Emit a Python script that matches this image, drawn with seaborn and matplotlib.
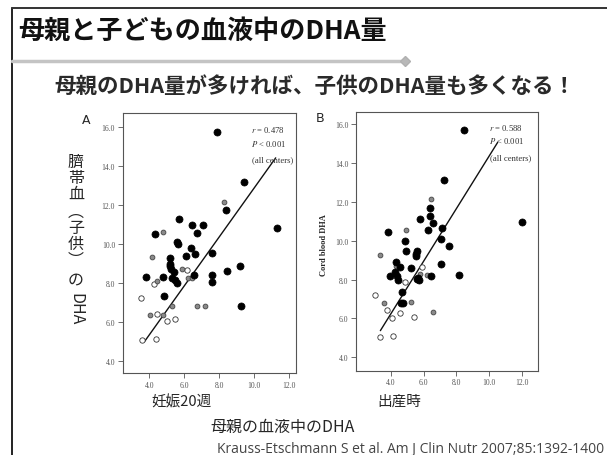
import matplotlib
matplotlib.use("Agg")
import matplotlib.pyplot as plt
from matplotlib.lines import Line2D
import seaborn as sns
import pandas as pd

# ---------------- data ----------------
a_black_x = [7.85, 9.39, 8.40, 11.31, 5.71, 4.34, 6.46, 7.07, 6.73, 5.58, 5.62, 6.38, 6.08, 6.63,
             7.60, 5.17, 5.17, 5.20, 5.24, 5.40, 3.83, 4.77, 5.28, 5.45, 5.60, 6.55, 7.60, 7.60,
             8.44, 9.20, 9.24, 4.86]
a_black_y = [15.74, 13.21, 11.74, 10.82, 11.30, 10.53, 11.01, 10.99, 10.60, 10.10, 10.00, 9.81, 9.42, 9.50,
             9.54, 9.28, 9.00, 8.87, 8.73, 8.59, 8.32, 8.31, 8.26, 8.18, 8.02, 8.43, 8.41, 8.08,
             8.63, 8.87, 6.82, 7.36]
a_gray_x = [8.29, 4.77, 4.14, 4.46, 5.85, 6.23, 6.44, 6.74, 7.18, 5.31, 4.02, 4.80]
a_gray_y = [12.18, 10.62, 9.35, 8.12, 8.75, 8.26, 8.26, 6.85, 6.84, 6.85, 6.37, 6.37]
a_open_x = [4.25, 6.15, 3.53, 4.42, 4.99, 5.49, 3.60, 4.40]
a_open_y = [7.96, 8.67, 7.26, 6.41, 6.07, 6.15, 5.11, 5.13]
a_line_x = [3.74, 11.22]
a_line_y = [5.03, 14.43]

b_black_x = [8.47, 7.22, 6.41, 6.39, 5.80, 6.59, 6.28, 7.10, 12.00, 3.82, 4.86, 7.04, 7.55, 4.90,
             5.60, 5.55, 5.50, 4.31, 4.55, 5.22, 4.24, 3.94, 4.35, 4.41, 5.60, 5.70, 5.65, 6.45,
             7.06, 8.14, 4.65, 4.63, 4.73]
b_black_y = [15.68, 13.14, 11.68, 11.25, 11.13, 10.91, 10.55, 10.67, 10.98, 10.46, 9.97, 10.07, 9.74, 9.45,
             9.45, 9.32, 9.22, 8.89, 8.66, 8.58, 8.40, 8.17, 8.20, 7.98, 8.05, 8.00, 8.10, 8.17,
             8.80, 8.25, 7.34, 6.77, 6.77]
b_gray_x = [6.45, 4.92, 3.33, 4.31, 5.80, 6.22, 3.57, 5.22, 6.55]
b_gray_y = [12.14, 10.57, 9.26, 8.71, 8.27, 8.22, 6.79, 6.83, 6.31]
b_open_x = [5.88, 4.84, 3.04, 3.74, 4.53, 4.04, 5.43, 3.33, 4.12]
b_open_y = [8.63, 7.89, 7.20, 6.42, 6.28, 6.00, 6.09, 5.06, 5.08]
b_line_x = [3.35, 10.53]
b_line_y = [5.37, 15.06]

x_ticks = [4, 6, 8, 10, 12]
x_tick_labels = ["4.0", "6.0", "8.0", "10.0", "12.0"]
y_ticks = [4, 6, 8, 10, 12, 14, 16]
y_tick_labels = ["4.0", "6.0", "8.0", "10.0", "12.0", "14.0", "16.0"]

stats_a = ["$r$ = 0.478", "$P$ < 0.001", "(all centers)"]
stats_b = ["$r$ = 0.588", "$P$ < 0.001", "(all centers)"]

title = "母親と子どもの血液中のDHA量"
subtitle = "母親のDHA量が多ければ、子供のDHA量も多くなる！"
ylabel_a_chars = ["臍", "帯", "血", "︵", "子", "供", "︶", "の"]
ylabel_b = "Cord blood DHA"
xlabel_a = "妊娠20週"
xlabel_b = "出産時"
xlabel_common = "母親の血液中のDHA"
citation = "Krauss-Etschmann S et al. Am J Clin Nutr 2007;85:1392-1400"

# ---------------- figure ----------------
W, H = 607, 456
sns.set_style("white")
plt.rcParams["font.family"] = ["Noto Sans CJK JP", "DejaVu Sans"]
plt.rcParams["mathtext.fontset"] = "stix"

fig = plt.figure(figsize=(W / 100, H / 100), dpi=100)
fig.patch.set_facecolor("white")


def fx(px):
    return px / W


def fy(py):
    return 1 - py / H


CJK = ["Noto Sans CJK JP", "DejaVu Sans"]
SERIF = ["Liberation Serif", "DejaVu Serif"]


def make_df(bx, by, gx, gy, ox, oy):
    return pd.DataFrame({
        "x": bx + gx + ox,
        "y": by + gy + oy,
        "grp": ["black"] * len(bx) + ["gray"] * len(gx) + ["open"] * len(ox),
    })


def panel(rect, xlim, ylim, df, lx, ly):
    ax = fig.add_axes(rect)
    styles = {
        "black": dict(color="black", edgecolor="black", s=26, linewidth=0.5),
        "gray": dict(color="#8a8a8a", edgecolor="#444444", s=12, linewidth=0.6),
        "open": dict(color="white", edgecolor="#333333", s=15, linewidth=0.6),
    }
    for g in ["open", "gray", "black"]:
        sub = df[df["grp"] == g]
        sns.scatterplot(data=sub, x="x", y="y", ax=ax, legend=False, zorder=3, **styles[g])
    sns.lineplot(x=lx, y=ly, ax=ax, color="#111111", linewidth=1.0, zorder=2)
    ax.set_xlim(*xlim)
    ax.set_ylim(*ylim)
    ax.set_xticks(x_ticks)
    ax.set_xticklabels(x_tick_labels)
    ax.set_yticks(y_ticks)
    ax.set_yticklabels(y_tick_labels)
    ax.set_xlabel("")
    ax.set_ylabel("")
    ax.tick_params(direction="out", length=3.5, width=0.6, color="#555555",
                   labelsize=5.5, labelcolor="#555555", pad=2, bottom=True, left=True)
    for lab in ax.get_xticklabels() + ax.get_yticklabels():
        lab.set_fontfamily(SERIF)
    for sp in ax.spines.values():
        sp.set_visible(True)
        sp.set_color("#555555")
        sp.set_linewidth(0.8)
    ax.set_facecolor("white")
    return ax


# Panel A
df_a = make_df(a_black_x, a_black_y, a_gray_x, a_gray_y, a_open_x, a_open_y)
ax_a = panel([fx(122.7), fy(374), fx(296) - fx(122.7), fy(114) - fy(374)],
             (2.48, 12.38), (3.40, 16.73), df_a, a_line_x, a_line_y)
# Panel B
df_b = make_df(b_black_x, b_black_y, b_gray_x, b_gray_y, b_open_x, b_open_y)
ax_b = panel([fx(356), fy(371.7), fx(538.3) - fx(356), fy(113.3) - fy(371.7)],
             (1.86, 13.01), (3.31, 16.60), df_b, b_line_x, b_line_y)

# stats annotations
for (stats, xs, ys) in [(stats_a, 251, [130, 144, 160]),
                        (stats_b, 489, [128, 141, 158])]:
    for i, (s, yy) in enumerate(zip(stats, ys)):
        fig.text(fx(xs + (1 if i == 2 else 0)), fy(yy), s, fontsize=6.2, family=SERIF,
                 va="center", ha="left", color="#333333")

# panel letters
fig.text(fx(86), fy(121), "A", fontsize=9, family=["DejaVu Sans"], ha="center", va="center")
fig.text(fx(320), fy(118), "B", fontsize=9, family=["DejaVu Sans"], ha="center", va="center")

# vertical Japanese y label for panel A
ys_chars = [162, 178, 194, 212, 228, 244, 261, 280]
for ch, yy in zip(ylabel_a_chars, ys_chars):
    fig.text(fx(76), fy(yy), ch, fontsize=11.5, family=CJK, ha="center", va="center")
fig.text(fx(76), fy(309), "DHA", fontsize=11.5, family=CJK, rotation=-90,
         ha="center", va="center")

# y label panel B
fig.text(fx(324), fy(245), ylabel_b, fontsize=6, family=SERIF, weight="bold",
         rotation=90, ha="center", va="center")

# x labels
fig.text(fx(182), fy(402), xlabel_a, fontsize=10.5, family=CJK, ha="center", va="center")
fig.text(fx(399), fy(402), xlabel_b, fontsize=10.5, family=CJK, ha="center", va="center")
fig.text(fx(283), fy(427), xlabel_common, fontsize=11.5, family=CJK, ha="center", va="center")
fig.text(fx(217), fy(450), citation, fontsize=10, family=["Open Sans", "DejaVu Sans"],
         ha="left", va="center", color="#444444")

# title and subtitle
fig.text(fx(18), fy(31), title, fontsize=18.8, family=CJK, weight="bold",
         ha="left", va="center", color="#111111")
fig.text(fx(315), fy(86), subtitle, fontsize=15.5, family=CJK, weight="bold",
         ha="center", va="center", color="#2a2a2a")

# slide frame lines and decorative separator
fig.add_artist(Line2D([fx(12), fx(12)], [fy(9), fy(456)], transform=fig.transFigure,
                      color="#222222", linewidth=1.4))
fig.add_artist(Line2D([fx(12), fx(607)], [fy(9), fy(9)], transform=fig.transFigure,
                      color="#333333", linewidth=1.4))
fig.add_artist(Line2D([fx(12), fx(403)], [fy(62), fy(62)], transform=fig.transFigure,
                      color="#c4c4c4", linewidth=2.5))
fig.add_artist(Line2D([fx(405)], [fy(62)], transform=fig.transFigure, marker="D",
                      markersize=5.5, color="#b8b8b8", markeredgecolor="#b0b0b0", linestyle="none"))

fig.savefig("out.png", dpi=100, facecolor="white")
